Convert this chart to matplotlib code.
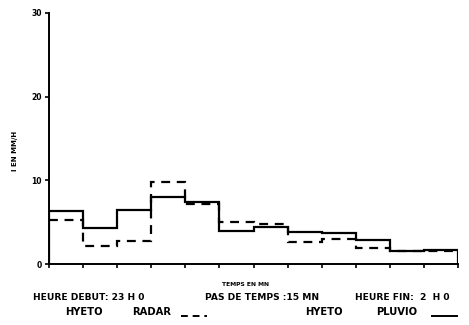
import matplotlib.pyplot as plt
from matplotlib.lines import Line2D

# intensities (mm/h) per 15 min step, 23h00 -> 2h00
steps = list(range(13))
pluvio = [6.3, 4.3, 6.5, 8.0, 7.4, 3.9, 4.4, 3.8, 3.7, 2.9, 1.5, 1.7]
radar = [5.2, 2.2, 2.8, 9.8, 7.2, 5.0, 4.8, 2.6, 3.0, 1.9, 1.5, 1.6]
yticks = [0, 10, 20, 30]

fig = plt.figure(figsize=(4.69, 3.25), dpi=100)
ax = fig.add_axes([49 / 469, 61 / 325, 409 / 469, 251 / 325])

ax.stairs(pluvio, steps, baseline=0, color='black', lw=1.6)
ax.stairs(radar, steps, baseline=None, color='black', lw=1.6, linestyle=(0, (4, 3)))

ax.set_xlim(0, 12)
ax.set_ylim(0, 30)
for s in ['top', 'right']:
    ax.spines[s].set_visible(False)
for s in ['left', 'bottom']:
    ax.spines[s].set_linewidth(1.4)
ax.set_xticks(steps)
ax.set_xticklabels([])
ax.set_yticks(yticks)
ax.set_yticklabels([str(v) for v in yticks], fontsize=5.5, fontweight='bold')
ax.tick_params(axis='both', direction='out', length=3, width=1.2, pad=2)
ax.set_ylabel('I EN MM/H', fontsize=5, fontweight='bold', labelpad=7)
ax.yaxis.set_label_coords(-31 / 409, 0.45)


def label(x, y, s, size):
    fig.text(x / 469, 1 - y / 325, s, fontsize=size, fontweight='bold', ha='left', va='center')


label(222, 284, 'TEMPS EN MN', 4.3)
label(33, 298, 'HEURE DEBUT: 23 H 0', 6.6)
label(205, 297, 'PAS DE TEMPS :15 MN', 6.6)
label(355, 298, 'HEURE FIN:  2  H 0', 6.6)

label(65, 312, 'HYETO', 7.2)
label(132, 312, 'RADAR', 7.2)
fig.add_artist(Line2D([181 / 469, 207 / 469], [1 - 316 / 325] * 2, color='black', lw=1.4,
                      linestyle=(0, (3.5, 2.5))))
label(305, 312, 'HYETO', 7.2)
label(376, 312, 'PLUVIO', 7.2)
fig.add_artist(Line2D([432 / 469, 457 / 469], [1 - 316 / 325] * 2, color='black', lw=1.4))

fig.savefig('out.png', dpi=100)
